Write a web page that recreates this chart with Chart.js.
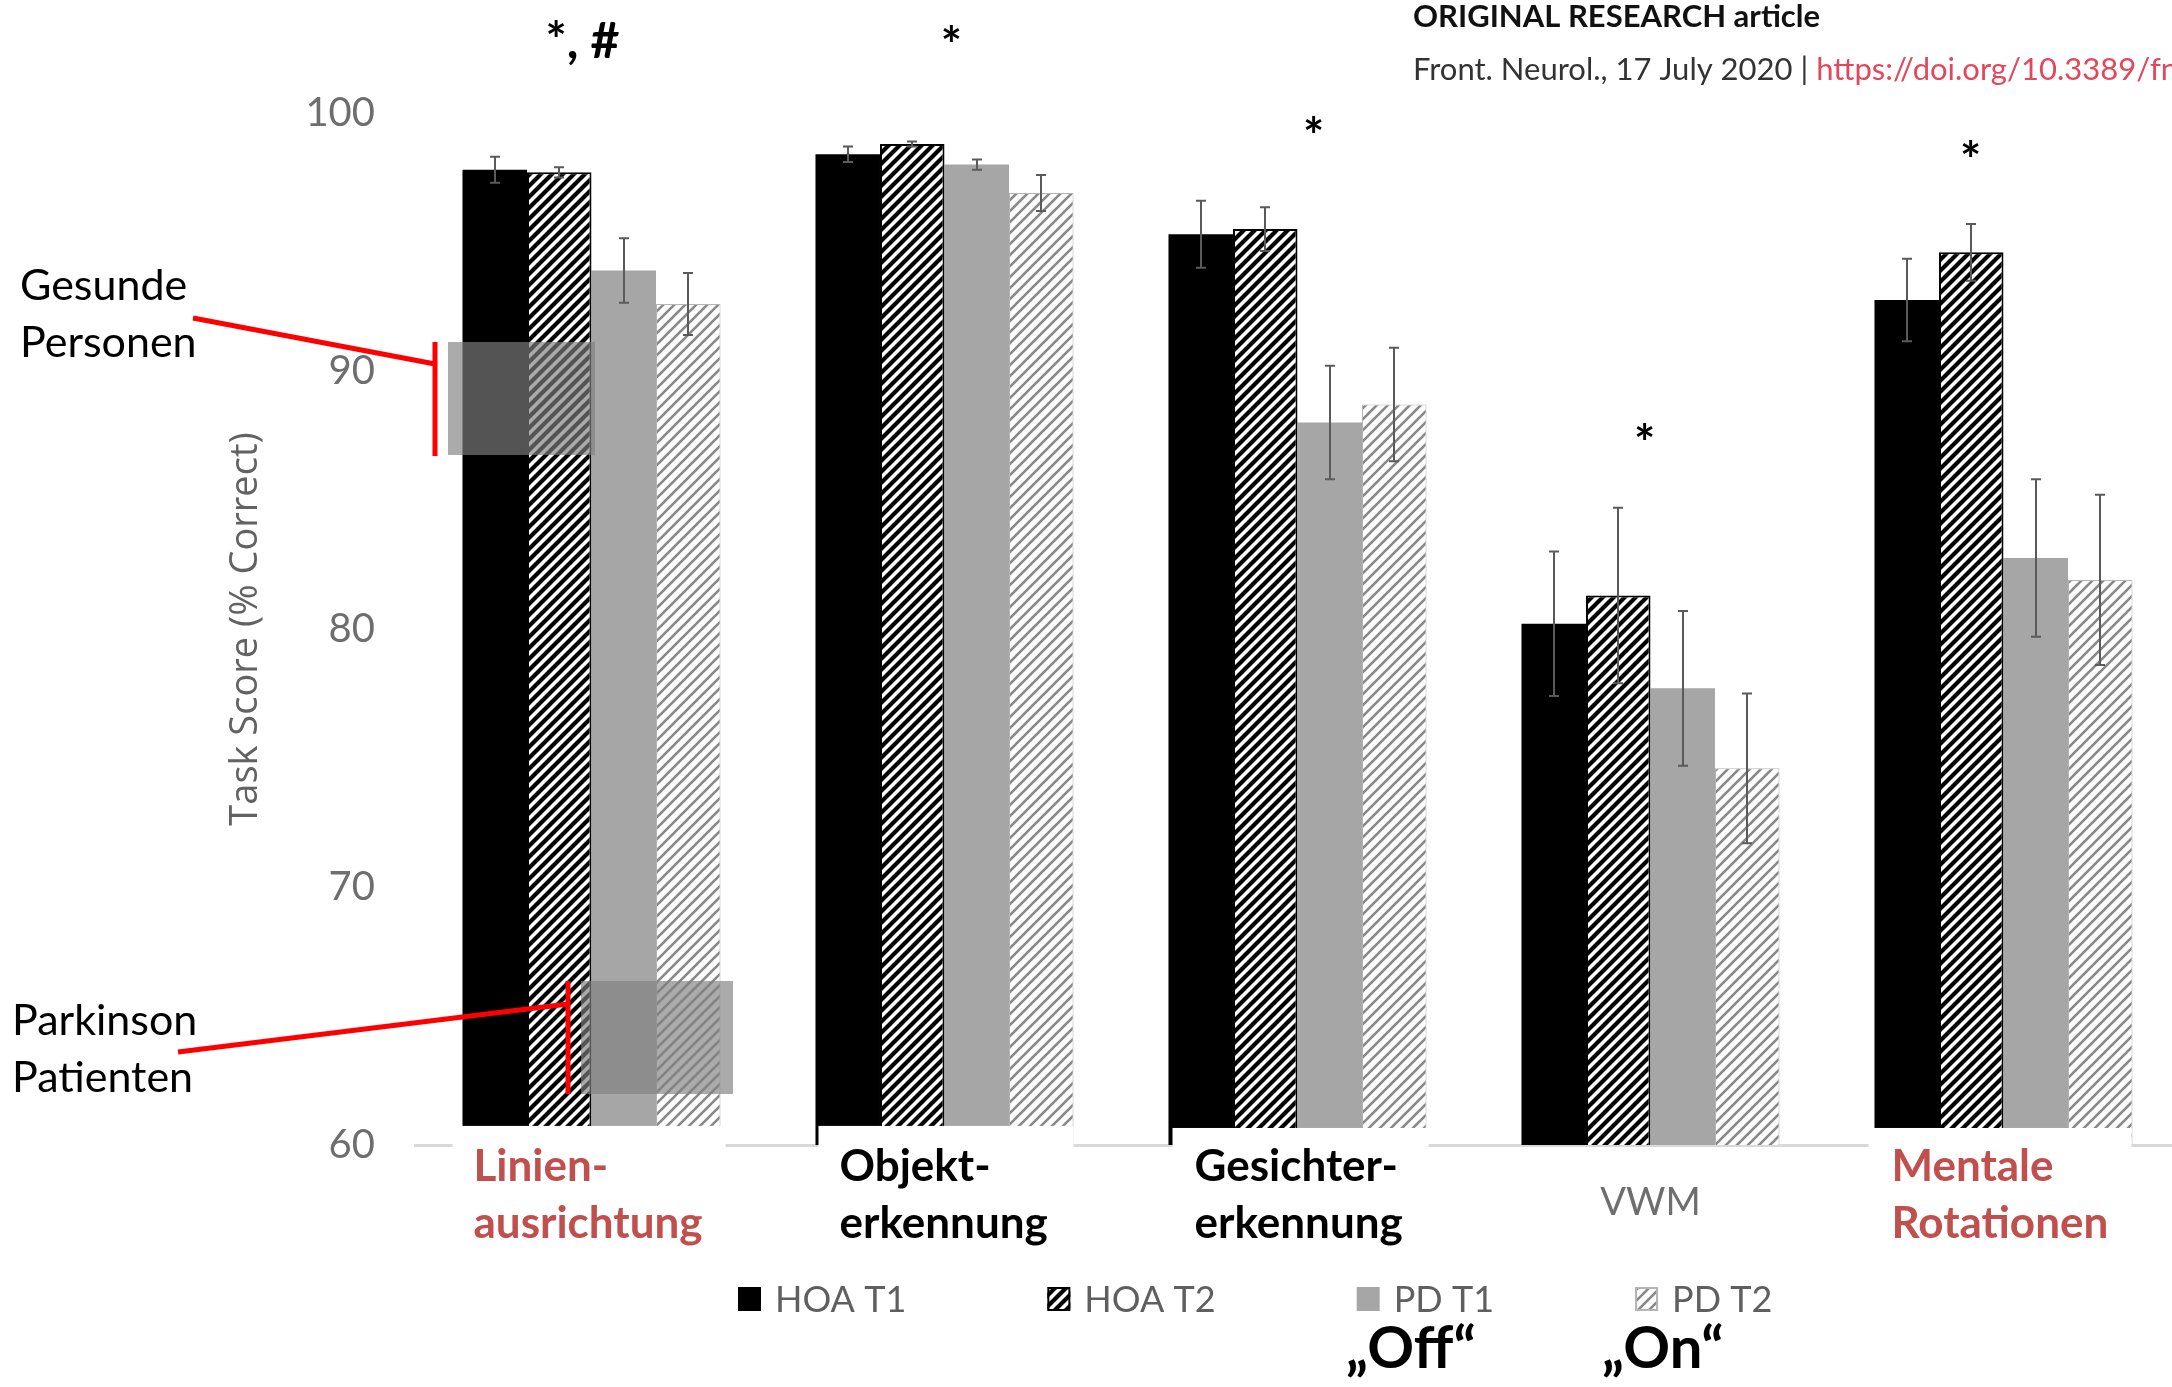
<!DOCTYPE html>
<html><head><meta charset="utf-8">
<script src="https://cdn.jsdelivr.net/npm/chart.js@4/dist/chart.umd.min.js"></script>
<style>
html,body{margin:0;padding:0;overflow:hidden;background:#fff;width:2172px;height:1387px}
canvas{display:block}
</style></head>
<body>
<canvas id="c" width="2200" height="1387" style="width:2200px;height:1387px"></canvas>
<script>
// ---- data ----
const categories = [['Linien-','ausrichtung'],['Objekt-','erkennung'],['Gesichter-','erkennung'],['VWM'],['Mentale','Rotationen']];
const seriesNames = ['HOA T1','HOA T2','PD T1','PD T2'];
const hoaT1 = [97.8, 98.4, 95.3, 80.2, 92.75];
const hoaT2 = [97.7, 98.8, 95.5, 81.3, 94.6];
const pdT1  = [93.9, 98.0, 88.0, 77.7, 82.75];
const pdT2  = [92.6, 96.9, 88.7, 74.6, 81.9];
const hoaT1Err = [0.5, 0.3, 1.3, 2.8, 1.6];
const hoaT2Err = [0.2, 0.1, 0.85, 3.4, 1.1];
const pdT1Err  = [1.25, 0.2, 2.2, 3.0, 3.05];
const pdT2Err  = [1.2, 0.7, 2.2, 2.9, 3.3];
const yTicks = [60, 70, 80, 90, 100];
const sigMarks = ['*, #', '*', '*', '*', '*'];
const sigTops  = [103.6, 103.4, 99.9, 88.0, 98.95];
const yTitle = 'Task Score (% Correct)';
const headerTitle = 'ORIGINAL RESEARCH article';
const headerRef = 'Front. Neurol., 17 July 2020';
const headerLink = 'https://doi.org/10.3389/fn';
const noteHealthy = ['Gesunde', 'Personen'];
const notePatients = ['Parkinson', 'Patienten'];
const noteOff = '\u201EOff\u201C';
const noteOn = '\u201EOn\u201C';

// ---- styles ----
const canvas = document.getElementById('c');
const ctx = canvas.getContext('2d');
function hatch(bg, fg, lw, s){
  const c = document.createElement('canvas'); c.width = c.height = s;
  const g = c.getContext('2d');
  g.fillStyle = bg; g.fillRect(0,0,s,s);
  g.strokeStyle = fg; g.lineWidth = lw; g.lineCap = 'square';
  g.beginPath();
  g.moveTo(0,s); g.lineTo(s,0);
  g.moveTo(-s/2,s/2); g.lineTo(s/2,-s/2);
  g.moveTo(s/2,1.5*s); g.lineTo(1.5*s,s/2);
  g.stroke();
  return ctx.createPattern(c,'repeat');
}
const patHoa = hatch('#ffffff','#000000',4.2,11);
const patPd  = hatch('#ffffff','#888888',2.6,11);

const labelStyle = [
  {color:'#c0504d', bold:true, dx:-118, box:[-139,134], top:60.74},
  {color:'#000000', bold:true, dx:-105, box:[-126,129], top:60.74},
  {color:'#000000', bold:true, dx:-103, box:[-125,131], top:60.66},
  {color:'#6e6e6e', bold:false, center:true},
  {color:'#c0504d', bold:true, dx:-112, box:[-135,128], top:60.66}
];
const sigDx = [-9, 7, 16, -6, -33];

const overlay = {
  id: 'overlay',
  afterDatasetsDraw(chart){
    const c = chart.ctx, y = chart.scales.y;
    c.save();
    c.strokeStyle = '#5a5a5a'; c.lineWidth = 2;
    chart.data.datasets.forEach((ds, i) => {
      const meta = chart.getDatasetMeta(i);
      meta.data.forEach((bar, j) => {
        const v = ds.data[j], e = ds.errors[j];
        const x = Math.round(bar.x);
        const yt = y.getPixelForValue(v + e), yb = y.getPixelForValue(v - e);
        c.beginPath();
        c.moveTo(x, yt); c.lineTo(x, yb);
        c.moveTo(x-5, yt); c.lineTo(x+5, yt);
        c.moveTo(x-5, yb); c.lineTo(x+5, yb);
        c.stroke();
      });
    });
    c.restore();
  },
  afterDraw(chart){
    const c = chart.ctx, x = chart.scales.x, y = chart.scales.y;
    c.save();
    // category labels with white boxes
    categories.forEach((lab, i) => {
      const st = labelStyle[i];
      const cx = x.getPixelForValue(i);
      if (st.box) {
        const top = y.getPixelForValue(st.top);
        c.fillStyle = '#ffffff';
        c.fillRect(cx + st.box[0], top, st.box[1] - st.box[0], 1255 - top);
      }
      c.fillStyle = st.color;
      c.textBaseline = 'alphabetic';
      if (st.center) {
        c.font = '38px Lato';
        c.textAlign = 'center';
        c.fillText(lab[0], cx, 1215);
      } else {
        c.font = 'bold 44px Lato';
        c.textAlign = 'left';
        lab.forEach((t, k) => c.fillText(t, cx + st.dx, 1181 + k*57));
      }
    });
    // significance marks
    c.fillStyle = '#000'; c.font = 'bold 50px Lato'; c.textAlign = 'center';
    const asc = c.measureText('*').actualBoundingBoxAscent;
    sigMarks.forEach((m, i) => {
      c.fillText(m, x.getPixelForValue(i) + sigDx[i], y.getPixelForValue(sigTops[i]) + asc);
    });
    // legend
    let lx = 738;
    c.font = '36px Lato'; c.textAlign = 'left'; c.textBaseline = 'middle';
    chart.data.datasets.forEach(ds => {
      c.fillStyle = ds.backgroundColor;
      c.fillRect(lx, 1287, 23, 24);
      if (ds.borderWidth) {
        c.strokeStyle = ds.borderColor; c.lineWidth = 2;
        c.strokeRect(lx + 1, 1288, 21, 22);
      }
      c.fillStyle = '#5f5f5f';
      c.fillText(ds.label, lx + 37, 1300);
      lx += 37 + c.measureText(ds.label).width + 141;
    });
    // On / Off
    c.textBaseline = 'alphabetic';
    c.fillStyle = '#000'; c.font = 'bold 58px Lato';
    c.fillText(noteOff, 1346, 1368);
    c.fillText(noteOn, 1602, 1368);
    // header
    c.font = 'bold 31px Lato'; c.fillStyle = '#111';
    c.fillText(headerTitle, 1413, 27);
    c.font = '31px Lato'; c.fillStyle = '#333';
    c.fillText(headerRef, 1413, 80);
    let hx = 1413 + c.measureText(headerRef + ' ').width;
    c.fillText('|', hx, 80);
    hx += c.measureText('| ').width;
    c.fillStyle = '#e4475b';
    c.fillText(headerLink, hx, 80);
    // annotation boxes
    c.fillStyle = 'rgba(128,128,128,0.66)';
    c.fillRect(448, 342, 147, 113);
    c.fillRect(581, 981, 152, 113);
    // red lines
    c.strokeStyle = '#ff0000'; c.lineWidth = 5; c.lineCap = 'butt';
    c.beginPath();
    c.moveTo(193, 318); c.lineTo(435, 364);
    c.moveTo(435, 342); c.lineTo(435, 456);
    c.moveTo(178, 1052); c.lineTo(568, 1004);
    c.moveTo(568, 981); c.lineTo(568, 1094);
    c.stroke();
    // annotation text
    c.fillStyle = '#000'; c.font = '43px Lato'; c.textAlign = 'left';
    c.fillText(noteHealthy[0], 20, 300);
    c.fillText(noteHealthy[1], 20, 357);
    c.fillText(notePatients[0], 12, 1035);
    c.fillText(notePatients[1], 12, 1092);
    c.restore();
  }
};

new Chart(ctx, {
  type: 'bar',
  data: {
    labels: categories.map(c => c.join(' ')),
    datasets: [
      {label: seriesNames[0], data: hoaT1, errors: hoaT1Err, backgroundColor: '#000000', borderWidth: 0},
      {label: seriesNames[1], data: hoaT2, errors: hoaT2Err, backgroundColor: patHoa, borderColor: '#000000', borderWidth: 2},
      {label: seriesNames[2], data: pdT1, errors: pdT1Err, backgroundColor: '#a6a6a6', borderWidth: 0},
      {label: seriesNames[3], data: pdT2, errors: pdT2Err, backgroundColor: patPd, borderColor: '#b5b5b5', borderWidth: 1}
    ]
  },
  options: {
    responsive: false,
    animation: false,
    devicePixelRatio: 1,
    layout: {padding: {top: 113, right: 20, bottom: 0, left: 0}},
    datasets: {bar: {categoryPercentage: 0.731, barPercentage: 1}},
    plugins: {legend: {display: false}, tooltip: {enabled: false}},
    scales: {
      x: {
        grid: {display: false},
        border: {display: true, color: '#d9d9d9', width: 3},
        ticks: {display: false},
        afterFit: s => { s.height = 242; }
      },
      y: {
        min: 60, max: 100,
        afterBuildTicks: s => { s.ticks = yTicks.map(v => ({value: v})); },
        grid: {display: false, drawTicks: false},
        border: {display: false},
        ticks: {padding: 40, font: {family: 'Lato', size: 40}, color: '#6e6e6e'},
        title: {display: true, text: yTitle, font: {family: 'Open Sans', size: 38}, color: '#626262', padding: {top: 223, bottom: 0}},
        afterFit: s => { s.width = 415; }
      }
    }
  },
  plugins: [overlay]
});
</script>
</body></html>
